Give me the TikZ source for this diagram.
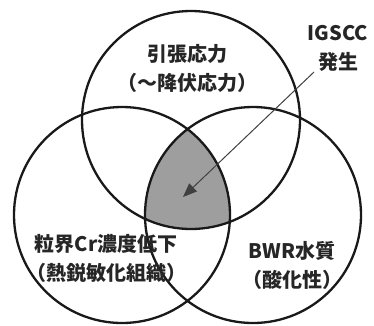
\documentclass[tikz,border=0pt]{standalone}
\usepackage{fontspec}
\newfontfamily\cjk{Noto Sans CJK JP}
\usetikzlibrary{arrows.meta}
\begin{document}
\begin{tikzpicture}[x=1pt,y=-1pt,
  ring/.style={draw=black!90, line width=2.3pt},
  lbl/.style={font=\cjk\bfseries\fontsize{20}{29}\selectfont, text=black!85, align=center, inner sep=0pt},
  pointer/.style={draw=black!75, line width=1pt, -{Triangle[length=14pt,width=11pt]}}]
\useasboundingbox (0,0) rectangle (374,325);
\coordinate (ct) at (191,120);
\coordinate (cl) at (122,215);
\coordinate (cr) at (253,215);
\begin{scope}
  \clip (ct) circle[radius=109pt];
  \clip (cl) circle[radius=108pt];
  \fill[black!38] (cr) circle[radius=108pt];
\end{scope}
\draw[ring] (ct) circle[radius=109pt];
\draw[ring] (cl) circle[radius=108pt];
\draw[ring] (cr) circle[radius=108pt];
\node[lbl] (stress) at (187,68) {引張応力\\（～降伏応力）};
\node[lbl] (igscc) at (338,48) {IGSCC\\発生};
\node[lbl] (sens) at (106,258) {粒界Cr濃度低下\\（熱鋭敏化組織）};
\node[lbl] (water) at (292,265) {BWR水質\\（酸化性）};
\coordinate (from) at (314,72);
\coordinate (to) at (183,197);
\draw[pointer] (from) -- (to);
\end{tikzpicture}
\end{document}
